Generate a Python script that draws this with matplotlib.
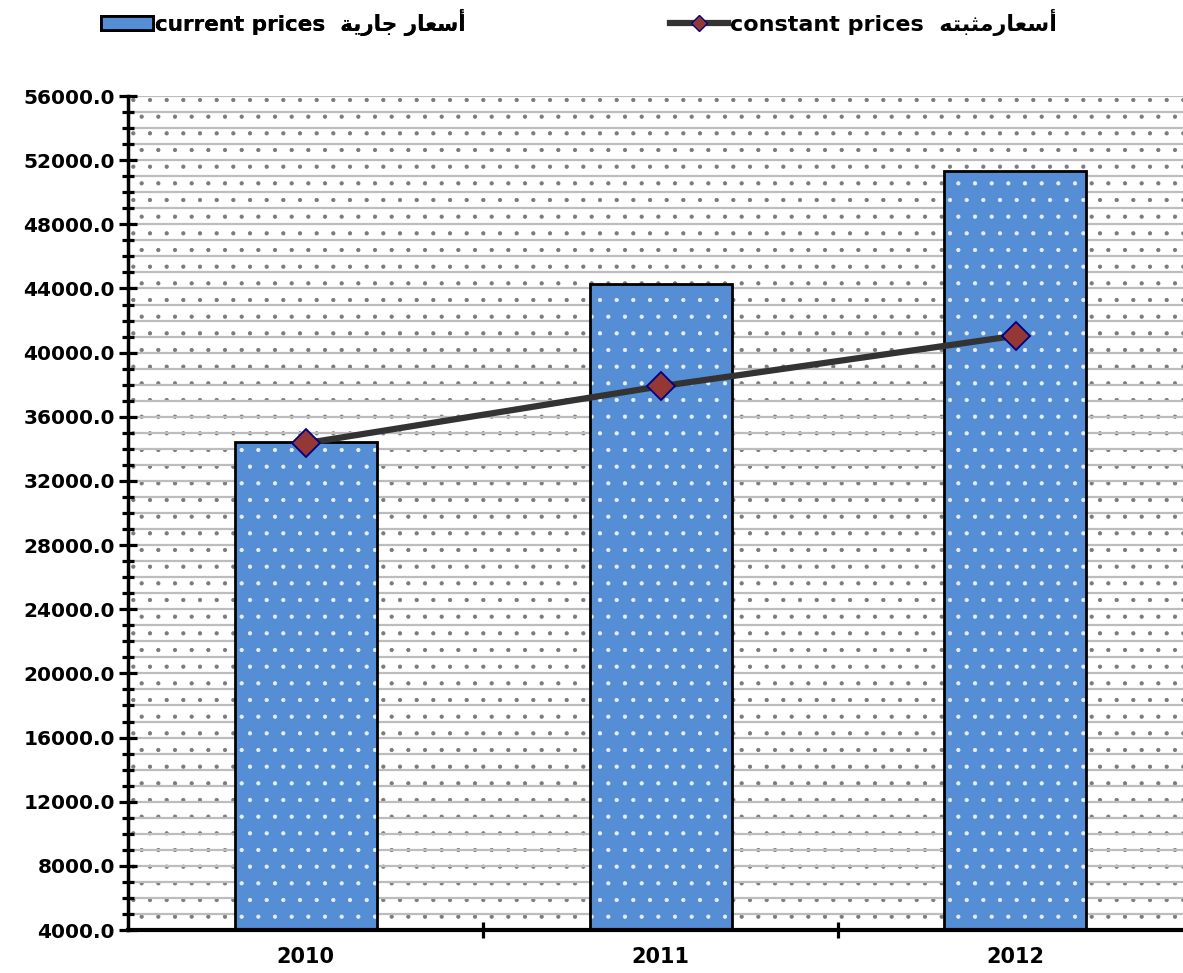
import matplotlib.pyplot as plt
import numpy as np
from matplotlib.patches import Rectangle, Patch
from matplotlib.lines import Line2D

# data
years = ["2010", "2011", "2012"]
current = [34400, 44300, 51300]
constant = [34350, 37900, 41050]

# arabic labels written in shaped (presentation) form, visual order
ar_current = "\ufe94\ufef3\ufead\ufe8e\ufe9f \ufead\ufe8e\ufecc\ufeb3\ufe83"
ar_constant = "\ufeea\ufe98\ufe92\ufe9c\ufee3\ufead\ufe8e\ufecc\ufeb3\ufe83"
lbl_current = "current prices  " + ar_current
lbl_constant = "constant prices  " + ar_constant

plt.rcParams['font.family'] = ['DejaVu Sans']
plt.rcParams['font.weight'] = 'bold'
plt.rcParams['hatch.linewidth'] = 0.6

fig = plt.figure(figsize=(11.83, 9.73), dpi=100)
ax = fig.add_axes((128/1183, 1-930/973, 1-128/1183, (930-96)/973))

x = np.arange(len(years)) + 0.5
ax.set_xlim(0, (1183-128)/355)
ax.set_ylim(4000, 56000)

# dotted background
bg = Rectangle((0, 0), 1, 1, transform=ax.transAxes, facecolor="white",
               edgecolor="#7a7a7a", hatch=".", linewidth=0, zorder=0.1)
ax.add_patch(bg)
ax.set_axisbelow(True)

# bars: fill with white dots, then black outline
ax.bar(x, np.array(current) - 4000, width=0.4, bottom=4000, color="#558ED5",
       edgecolor="#e8eef8", hatch=".", linewidth=0, zorder=2)
ax.bar(x, np.array(current) - 4000, width=0.4, bottom=4000, facecolor="none",
       edgecolor="black", linewidth=2, zorder=2.1)

ax.plot(x, constant, color="#333333", linewidth=4.5, marker="D", markersize=14,
        markerfacecolor="#953735", markeredgecolor="#000080", markeredgewidth=1.3,
        zorder=3)

# y axis
ax.set_yticks(np.arange(4000, 56001, 4000))
ax.set_yticks(np.arange(4000, 56001, 1000), minor=True)
ax.set_yticklabels([f"{v:.1f}" for v in np.arange(4000, 56001, 4000)])
ax.yaxis.grid(True, which="minor", color="#BDBDBD", linewidth=1.6)
ax.yaxis.grid(True, which="major", color="#BDBDBD", linewidth=1.6)
ax.tick_params(axis="y", which="major", direction="inout", length=13, width=2.3,
               labelsize=14.5, pad=3)
ax.tick_params(axis="y", which="minor", direction="inout", length=8, width=2.3)

# x axis: ticks between categories, labels centred
ax.set_xticks([1, 2])
ax.set_xticklabels(["", ""])
ax.set_xticks(x, minor=True)
ax.set_xticklabels(years, minor=True)
ax.tick_params(axis="x", which="major", direction="inout", length=12, width=2.3)
ax.tick_params(axis="x", which="minor", length=0, labelsize=15, pad=12)

for s in ["top", "right"]:
    ax.spines[s].set_visible(False)
ax.spines["left"].set_linewidth(2.5)
ax.spines["bottom"].set_linewidth(3)

# legend at the top
h1 = Patch(facecolor="#558ED5", edgecolor="black", linewidth=2)
h2 = Line2D([], [], color="#333333", linewidth=4.5, marker="D", markersize=8,
            markerfacecolor="#953735", markeredgecolor="#000080")
leg1 = fig.legend([h1], [lbl_current], loc="center left",
                  bbox_to_anchor=(82/1183, 1-22/973), frameon=False,
                  prop={"size": 15.5, "weight": "bold"}, handlelength=2.4,
                  handleheight=0.6, handletextpad=0.1)
fig.legend([h2], [lbl_constant], loc="center left",
           bbox_to_anchor=(650/1183, 1-22/973), frameon=False,
           prop={"size": 16, "weight": "bold"}, handlelength=2.6,
           handletextpad=0.1)
fig.add_artist(leg1)

fig.savefig("out.png", dpi=100)
